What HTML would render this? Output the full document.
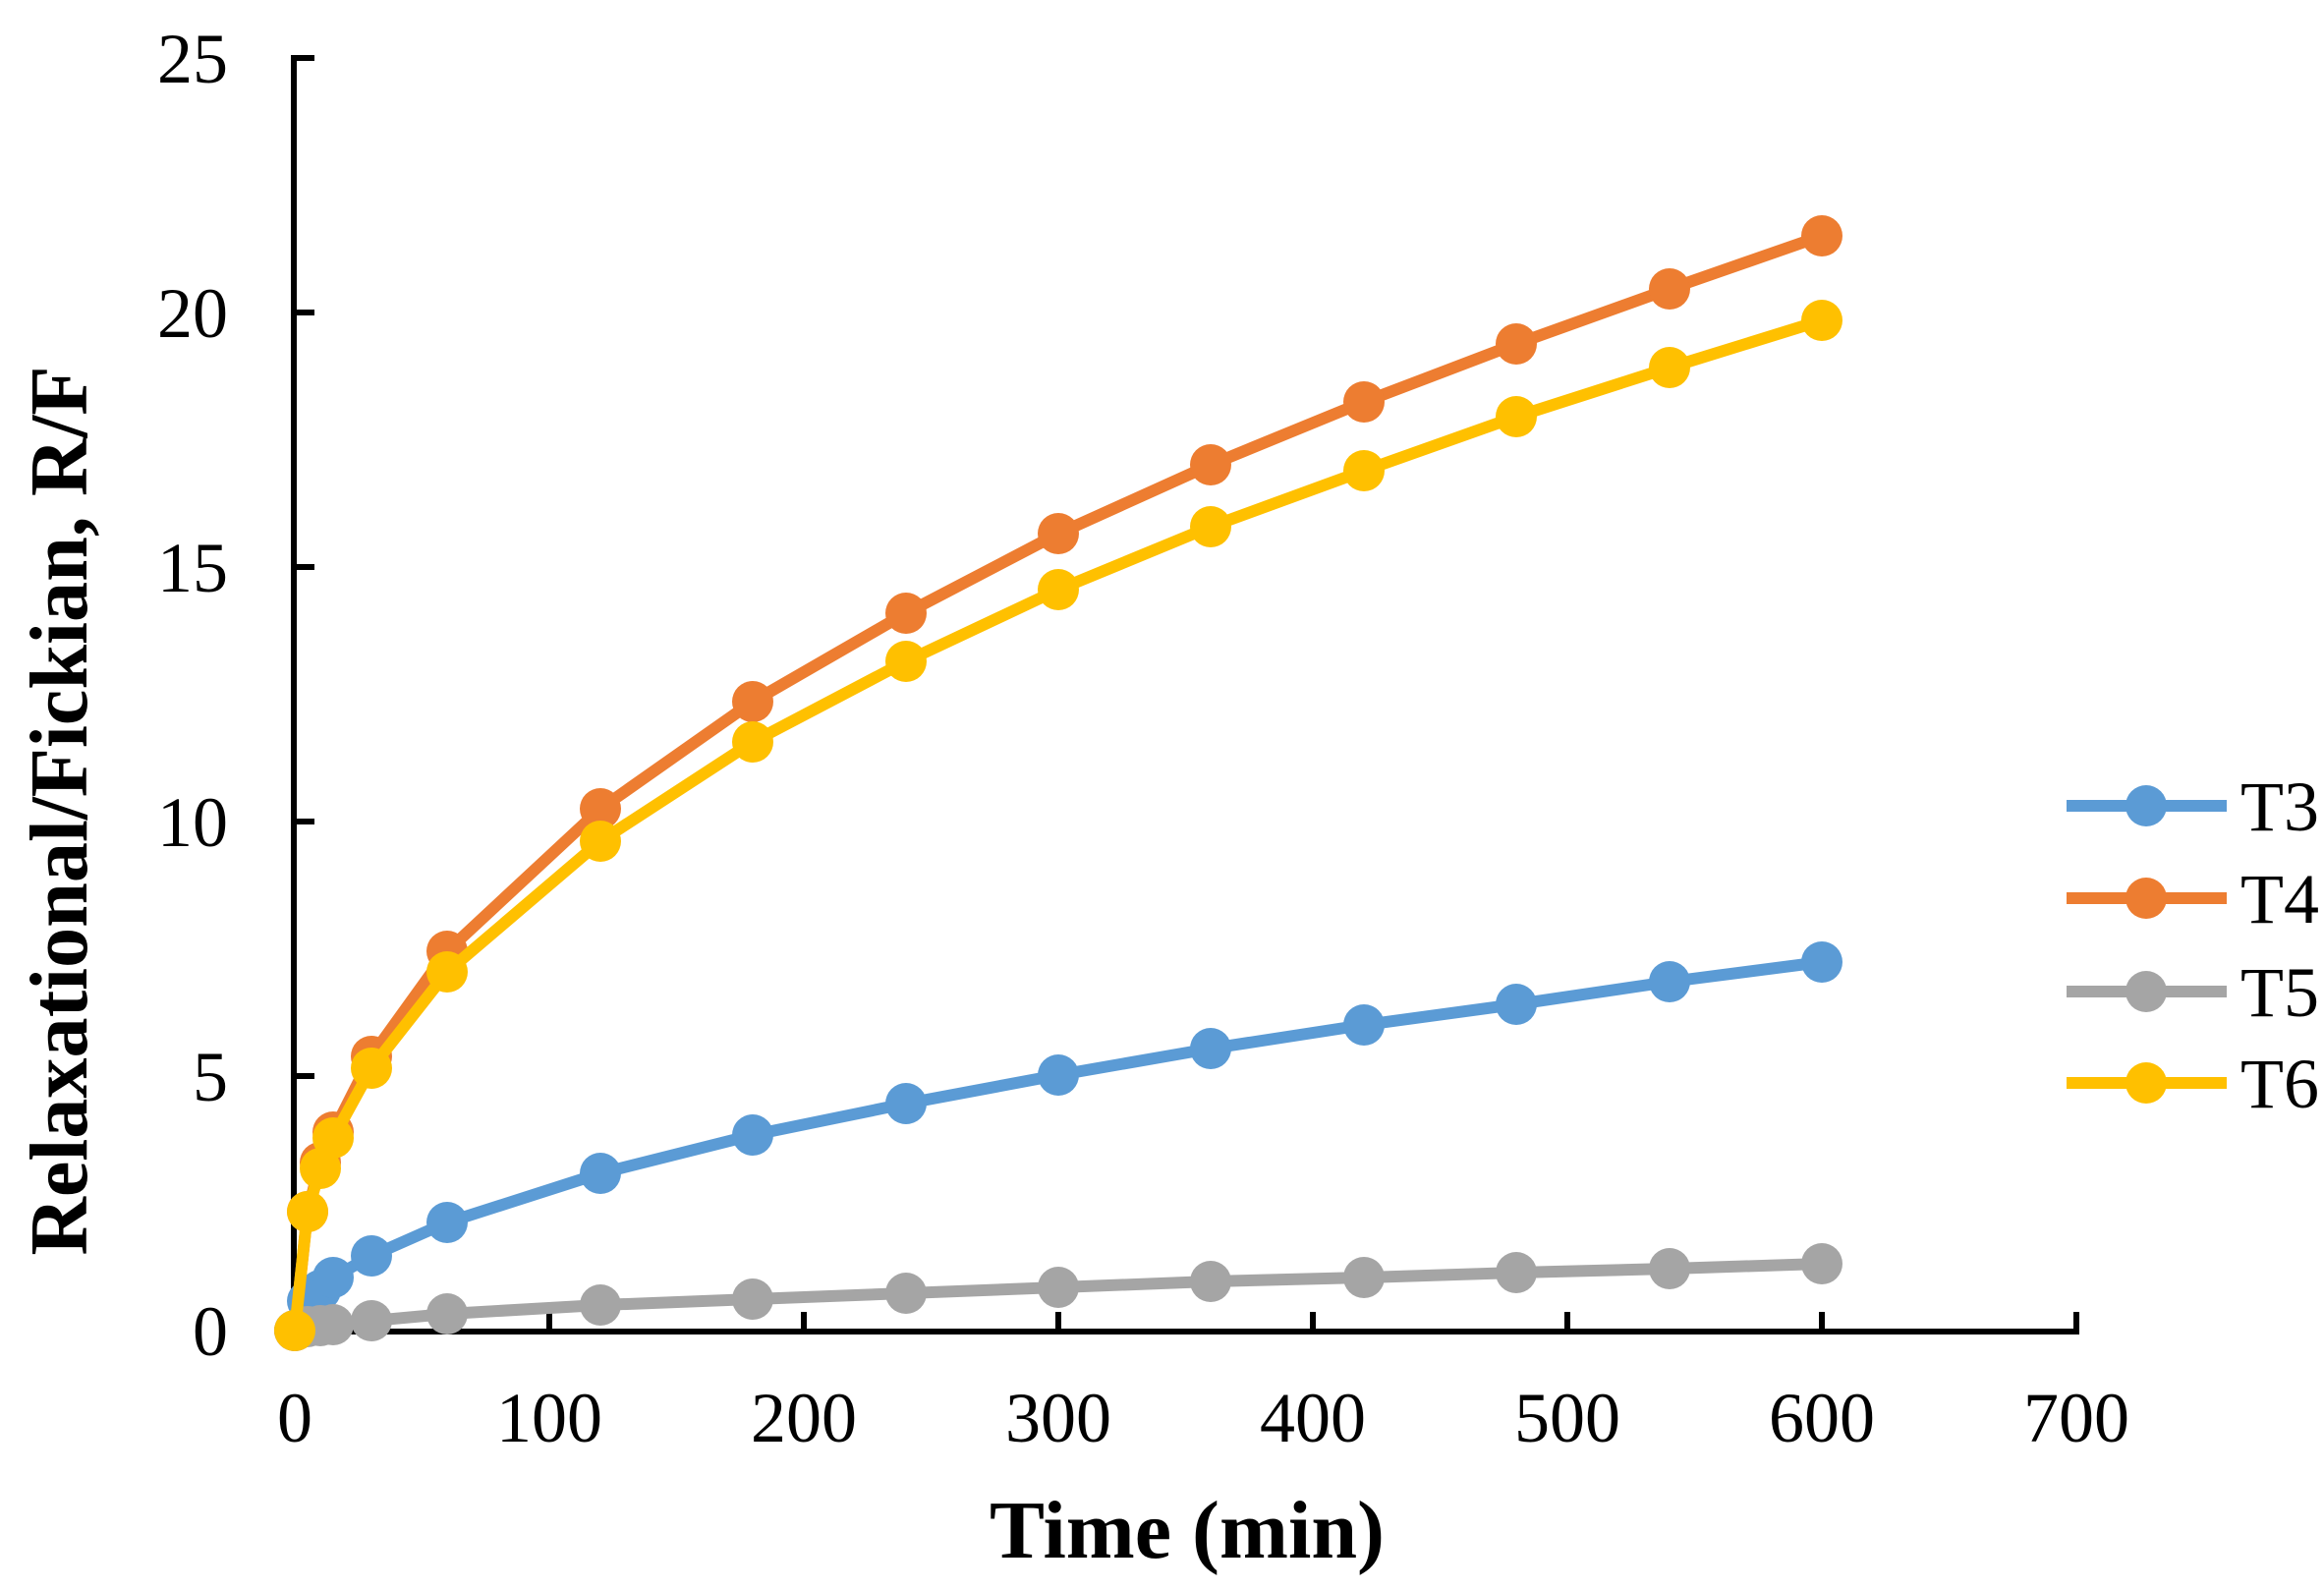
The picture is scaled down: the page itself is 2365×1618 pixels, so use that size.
<!DOCTYPE html>
<html><head><meta charset="utf-8"><style>html,body{margin:0;padding:0;background:#fff}svg{display:block}</style></head>
<body>
<svg width="2365" height="1618" viewBox="0 0 2365 1618" xmlns="http://www.w3.org/2000/svg" font-family="'Liberation Serif', serif">
<rect width="2365" height="1618" fill="#fff"/>
<g stroke="#000" stroke-width="6" fill="none">
<path d="M320,59 H299 V1355 H2113 V1335"/>
<path d="M299,1095 H320 M299,836 H320 M299,577 H320 M299,318 H320"/>
<path d="M559,1355 V1335 M818,1355 V1335 M1077,1355 V1335 M1336,1355 V1335 M1595,1355 V1335 M1854,1355 V1335"/>
</g>
<g font-size="72" text-anchor="end">
<text x="232" y="1379">0</text><text x="232" y="1120">5</text><text x="232" y="861">10</text><text x="232" y="602">15</text><text x="232" y="343">20</text><text x="232" y="84">25</text>
</g>
<g font-size="72" text-anchor="middle">
<text x="300" y="1467">0</text><text x="559" y="1467">100</text><text x="818" y="1467">200</text><text x="1077" y="1467">300</text><text x="1336" y="1467">400</text><text x="1595" y="1467">500</text><text x="1854" y="1467">600</text><text x="2113" y="1467">700</text>
</g>
<text x="1208" y="1585" font-size="84" font-weight="bold" text-anchor="middle">Time (min)</text>
<text transform="translate(88,825) rotate(-90)" font-size="84" font-weight="bold" text-anchor="middle" textLength="905" lengthAdjust="spacingAndGlyphs">Relaxational/Fickian, R/F</text>

<polyline stroke="#5B9BD5" stroke-width="12" fill="none" stroke-linejoin="round" points="300,1354 313,1324 326,1313 339,1300 378,1278 455,1244 611,1194 766,1155 922,1123 1077,1094 1232,1067 1388,1043 1543,1022 1699,999 1854,979"/>
<g fill="#5B9BD5"><circle cx="300" cy="1354" r="21"/><circle cx="313" cy="1324" r="21"/><circle cx="326" cy="1313" r="21"/><circle cx="339" cy="1300" r="21"/><circle cx="378" cy="1278" r="21"/><circle cx="455" cy="1244" r="21"/><circle cx="611" cy="1194" r="21"/><circle cx="766" cy="1155" r="21"/><circle cx="922" cy="1123" r="21"/><circle cx="1077" cy="1094" r="21"/><circle cx="1232" cy="1067" r="21"/><circle cx="1388" cy="1043" r="21"/><circle cx="1543" cy="1022" r="21"/><circle cx="1699" cy="999" r="21"/><circle cx="1854" cy="979" r="21"/></g>

<polyline stroke="#ED7D31" stroke-width="12" fill="none" stroke-linejoin="round" points="300,1354 313,1233 326,1183 339,1152 378,1075 455,968 611,823 766,714 922,624 1077,543 1232,473 1388,409 1543,350 1699,294 1854,240"/>
<g fill="#ED7D31"><circle cx="300" cy="1354" r="21"/><circle cx="313" cy="1233" r="21"/><circle cx="326" cy="1183" r="21"/><circle cx="339" cy="1152" r="21"/><circle cx="378" cy="1075" r="21"/><circle cx="455" cy="968" r="21"/><circle cx="611" cy="823" r="21"/><circle cx="766" cy="714" r="21"/><circle cx="922" cy="624" r="21"/><circle cx="1077" cy="543" r="21"/><circle cx="1232" cy="473" r="21"/><circle cx="1388" cy="409" r="21"/><circle cx="1543" cy="350" r="21"/><circle cx="1699" cy="294" r="21"/><circle cx="1854" cy="240" r="21"/></g>

<polyline stroke="#A5A5A5" stroke-width="12" fill="none" stroke-linejoin="round" points="300,1354 313,1350 326,1349 339,1348 378,1344 455,1337 611,1328 766,1322 922,1316 1077,1310 1232,1304 1388,1300 1543,1295 1699,1291 1854,1286"/>
<g fill="#A5A5A5"><circle cx="300" cy="1354" r="21"/><circle cx="313" cy="1350" r="21"/><circle cx="326" cy="1349" r="21"/><circle cx="339" cy="1348" r="21"/><circle cx="378" cy="1344" r="21"/><circle cx="455" cy="1337" r="21"/><circle cx="611" cy="1328" r="21"/><circle cx="766" cy="1322" r="21"/><circle cx="922" cy="1316" r="21"/><circle cx="1077" cy="1310" r="21"/><circle cx="1232" cy="1304" r="21"/><circle cx="1388" cy="1300" r="21"/><circle cx="1543" cy="1295" r="21"/><circle cx="1699" cy="1291" r="21"/><circle cx="1854" cy="1286" r="21"/></g>

<polyline stroke="#FFC000" stroke-width="12" fill="none" stroke-linejoin="round" points="300,1354 313,1233 326,1189 339,1158 378,1087 455,989 611,856 766,755 922,673 1077,600 1232,536 1388,479 1543,424 1699,374 1854,326"/>
<g fill="#FFC000"><circle cx="300" cy="1354" r="21"/><circle cx="313" cy="1233" r="21"/><circle cx="326" cy="1189" r="21"/><circle cx="339" cy="1158" r="21"/><circle cx="378" cy="1087" r="21"/><circle cx="455" cy="989" r="21"/><circle cx="611" cy="856" r="21"/><circle cx="766" cy="755" r="21"/><circle cx="922" cy="673" r="21"/><circle cx="1077" cy="600" r="21"/><circle cx="1232" cy="536" r="21"/><circle cx="1388" cy="479" r="21"/><circle cx="1543" cy="424" r="21"/><circle cx="1699" cy="374" r="21"/><circle cx="1854" cy="326" r="21"/></g>

<g stroke-width="12">
<line x1="2103" y1="820" x2="2266" y2="820" stroke="#5B9BD5"/><circle cx="2184" cy="820" r="21" fill="#5B9BD5"/>
<line x1="2103" y1="914" x2="2266" y2="914" stroke="#ED7D31"/><circle cx="2184" cy="914" r="21" fill="#ED7D31"/>
<line x1="2103" y1="1009" x2="2266" y2="1009" stroke="#A5A5A5"/><circle cx="2184" cy="1009" r="21" fill="#A5A5A5"/>
<line x1="2103" y1="1102" x2="2266" y2="1102" stroke="#FFC000"/><circle cx="2184" cy="1102" r="21" fill="#FFC000"/>
</g>
<g font-size="72">
<text x="2280" y="845">T3</text><text x="2280" y="939">T4</text><text x="2280" y="1034">T5</text><text x="2280" y="1127">T6</text>
</g>
</svg>
</body></html>
